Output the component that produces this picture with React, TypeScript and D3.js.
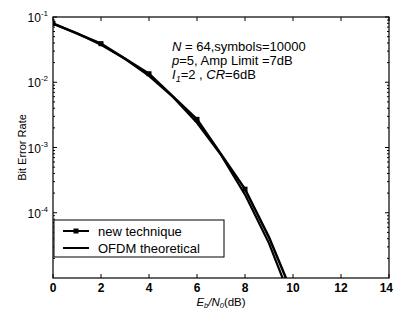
import React from "react";
import * as d3 from "d3";

const xTicks = [0, 2, 4, 6, 8, 10, 12, 14];
const yTickExps = [-1, -2, -3, -4];

const newX = [0, 2, 4, 6, 8, 9, 10];
const newY = [0.08, 0.039, 0.0135, 0.0027, 0.00023, 0.000042, 0.0000055];
const newMarkers = [true, true, true, true, true, false, false];

const theoX = [0, 1, 2, 3, 4, 5, 6, 7, 8, 9, 10];
const theoY = [0.0786, 0.0563, 0.0375, 0.0229, 0.0125, 0.00595, 0.00239, 0.00077, 0.00019, 0.000034, 0.0000039];

const annotation = ["N = 64,symbols=10000", "p=5, Amp Limit =7dB", "I1=2 , CR=6dB"];
const legendLabels = ["new technique", "OFDM theoretical"];

export default function App() {
  const W = 394, H = 311;
  const L = 53, R = 389, T = 17, B = 278;
  const x = d3.scaleLinear().domain([0, 14]).range([L, R]);
  const y = d3.scaleLog().domain([1e-5, 1e-1]).range([B, T]);
  const line = d3.line<[number, number]>().x(d => x(d[0])).y(d => y(d[1]));
  const newPts = newX.map((v, i) => [v, newY[i]] as [number, number]);
  const theoPts = theoX.map((v, i) => [v, theoY[i]] as [number, number]);
  const minor: number[] = [];
  for (let e = -5; e < -1; e++) for (let k = 2; k <= 9; k++) minor.push(k * Math.pow(10, e));
  const font = "Arial, 'Liberation Sans', sans-serif";
  return (
    <svg width={W} height={H} style={{ position: "absolute", left: 0, top: 0, background: "#fff" }} fontFamily={font}>
      <defs>
        <clipPath id="plot"><rect x={L} y={T} width={R - L} height={B - T} /></clipPath>
      </defs>
      <rect x={0} y={0} width={W} height={H} fill="#fff" />
      <rect x={L} y={T} width={R - L} height={B - T} fill="none" stroke="#000" strokeWidth={1.2} />
      {xTicks.map((t, i) => (
        <g key={"x" + t}>
          <line x1={x(t)} x2={x(t)} y1={B} y2={B - 4} stroke="#000" />
          <line x1={x(t)} x2={x(t)} y1={T} y2={T + 4} stroke="#000" />
          <text x={i === xTicks.length - 1 ? W - 1 : x(t)} y={B + 14} fontSize={12} fontWeight="bold"
            textAnchor={i === xTicks.length - 1 ? "end" : "middle"}>{t}</text>
        </g>
      ))}
      {yTickExps.map(e => (
        <g key={"y" + e}>
          <line x1={L} x2={L + 4} y1={y(Math.pow(10, e))} y2={y(Math.pow(10, e))} stroke="#000" />
          <line x1={R} x2={R - 4} y1={y(Math.pow(10, e))} y2={y(Math.pow(10, e))} stroke="#000" />
          <text x={L - 5} y={y(Math.pow(10, e)) + 5} fontSize={12} textAnchor="end">
            10<tspan dy={-6} fontSize={8}>{e}</tspan>
          </text>
        </g>
      ))}
      {minor.map((m, i) => (
        <g key={"m" + i}>
          <line x1={L} x2={L + 2} y1={y(m)} y2={y(m)} stroke="#000" />
          <line x1={R} x2={R - 2} y1={y(m)} y2={y(m)} stroke="#000" />
        </g>
      ))}
      <g clipPath="url(#plot)">
        <path d={line(theoPts) || ""} fill="none" stroke="#000" strokeWidth={2.2} />
        <path d={line(newPts) || ""} fill="none" stroke="#000" strokeWidth={2.5} />
        {newPts.map((p, i) => newMarkers[i] ? (
          <rect key={i} x={x(p[0]) - 2.5} y={y(p[1]) - 2.5} width={5} height={5} fill="#000" />
        ) : null)}
      </g>
      <text x={172} y={51} fontSize={13}><tspan fontStyle="italic">N</tspan>{annotation[0].slice(1)}</text>
      <text x={172} y={65} fontSize={13}><tspan fontStyle="italic">p</tspan>{annotation[1].slice(1)}</text>
      <text x={172} y={79} fontSize={13}>
        <tspan fontStyle="italic">I</tspan><tspan fontSize={9} dy={3} fontStyle="italic">1</tspan><tspan dy={-3}>=2 , </tspan>
        <tspan fontStyle="italic">CR</tspan>=6dB
      </text>
      <rect x={54} y={220} width={170} height={37} fill="#fff" stroke="#000" strokeWidth={1} />
      <line x1={63} x2={89} y1={231} y2={231} stroke="#000" strokeWidth={2} />
      <rect x={73.5} y={228.5} width={5} height={5} fill="#000" />
      <line x1={63} x2={89} y1={248} y2={248} stroke="#000" strokeWidth={2} />
      <text x={98} y={236} fontSize={13}>{legendLabels[0]}</text>
      <text x={98} y={253} fontSize={13}>{legendLabels[1]}</text>
      <text transform={`translate(26,${(T + B) / 2}) rotate(-90)`} fontSize={11} textAnchor="middle">Bit Error Rate</text>
      <text x={221} y={306} fontSize={11.5} textAnchor="middle">
        <tspan fontStyle="italic">E</tspan><tspan fontSize={7.5} dy={2} fontStyle="italic">b</tspan><tspan dy={-2} fontStyle="italic">/N</tspan><tspan fontSize={7.5} dy={2} fontStyle="italic">0</tspan><tspan dy={-2}>(dB)</tspan>
      </text>
    </svg>
  );
}
